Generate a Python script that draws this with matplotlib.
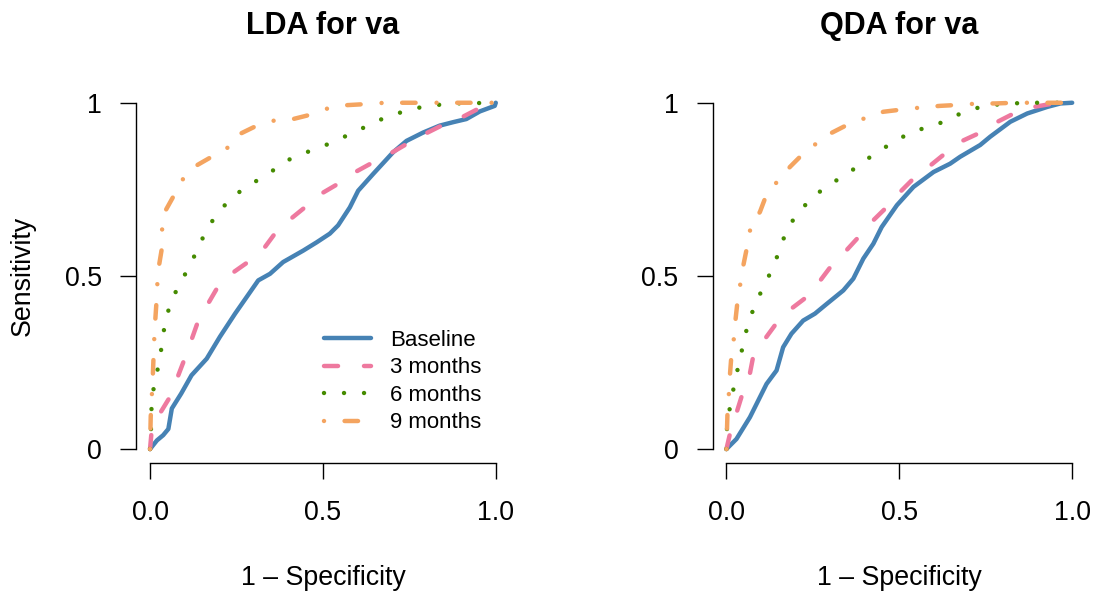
import matplotlib
matplotlib.use("Agg")
import matplotlib.pyplot as plt

plt.rcParams["font.family"] = ["Liberation Sans", "DejaVu Sans"]
plt.rcParams["lines.scale_dashes"] = False

# ROC curves: false positive rate (1 - specificity) vs. sensitivity
lda_base_x = [0, 0.02, 0.038, 0.053, 0.063, 0.09, 0.12, 0.164, 0.202, 0.246, 0.313, 0.347, 0.385,
              0.443, 0.482, 0.520, 0.544, 0.578, 0.602, 0.645, 0.703, 0.742, 0.79, 0.838, 0.877,
              0.915, 0.954, 0.997, 1.0]
lda_base_y = [0, 0.025, 0.04, 0.058, 0.117, 0.16, 0.213, 0.261, 0.324, 0.391, 0.487, 0.506, 0.540,
              0.573, 0.597, 0.622, 0.646, 0.698, 0.746, 0.794, 0.857, 0.890, 0.914, 0.934, 0.944,
              0.953, 0.975, 0.991, 1.0]

lda_m3_x = [0, 0.004, 0.014, 0.058, 0.106, 0.14, 0.193, 0.222, 0.279, 0.318, 0.361, 0.395, 0.448,
            0.486, 0.544, 0.583, 0.645, 0.684, 0.751, 0.785, 0.853, 0.896, 0.954, 1.0]
lda_m3_y = [0, 0.045, 0.079, 0.151, 0.276, 0.372, 0.463, 0.497, 0.537, 0.564, 0.622, 0.655, 0.698,
            0.732, 0.766, 0.794, 0.828, 0.847, 0.886, 0.905, 0.939, 0.955, 0.985, 1.0]

lda_m6_x = [0, 0.002, 0.005, 0.016, 0.029, 0.036, 0.046, 0.063, 0.09, 0.118, 0.142, 0.168, 0.2,
            0.241, 0.289, 0.34, 0.385, 0.438, 0.493, 0.547, 0.6, 0.653, 0.708, 0.766, 0.824,
            0.882, 1.0]
lda_m6_y = [0, 0.028, 0.146, 0.204, 0.261, 0.319, 0.377, 0.432, 0.484, 0.535, 0.588, 0.641, 0.687,
            0.730, 0.764, 0.792, 0.828, 0.852, 0.871, 0.895, 0.919, 0.946, 0.967, 0.984, 0.993,
            0.998, 1.0]

lda_m9_x = [0, 0.002, 0.005, 0.008, 0.012, 0.015, 0.018, 0.021, 0.026, 0.034, 0.035, 0.045, 0.069,
            0.094, 0.133, 0.173, 0.222, 0.26, 0.303, 0.356, 0.414, 0.462, 0.515, 0.568, 0.621,
            0.68, 1.0]
lda_m9_y = [0, 0.093, 0.15, 0.21, 0.314, 0.37, 0.415, 0.475, 0.53, 0.578, 0.636, 0.689, 0.732,
            0.778, 0.818, 0.841, 0.868, 0.91, 0.931, 0.948, 0.953, 0.965, 0.984, 0.993, 0.996,
            1.0, 1.0]

qda_base_x = [0, 0.029, 0.068, 0.092, 0.116, 0.145, 0.164, 0.188, 0.222, 0.256, 0.290, 0.338,
              0.367, 0.396, 0.425, 0.449, 0.493, 0.541, 0.599, 0.647, 0.676, 0.734, 0.763, 0.821,
              0.870, 0.928, 0.966, 1.0]
qda_base_y = [0, 0.029, 0.092, 0.140, 0.188, 0.227, 0.294, 0.333, 0.371, 0.391, 0.419, 0.458,
              0.492, 0.550, 0.593, 0.641, 0.704, 0.757, 0.800, 0.824, 0.844, 0.878, 0.902, 0.945,
              0.969, 0.988, 0.998, 1.0]

qda_m3_x = [0, 0.01, 0.043, 0.063, 0.077, 0.101, 0.140, 0.174, 0.232, 0.261, 0.304, 0.338, 0.382,
            0.415, 0.464, 0.498, 0.546, 0.585, 0.638, 0.676, 0.739, 0.778, 0.841, 0.889, 0.947, 1.0]
qda_m3_y = [0, 0.043, 0.149, 0.193, 0.265, 0.304, 0.357, 0.395, 0.439, 0.473, 0.530, 0.564, 0.612,
            0.651, 0.699, 0.738, 0.786, 0.815, 0.858, 0.887, 0.916, 0.942, 0.974, 0.988, 0.998, 1.0]

qda_m6_x = [0, 0.002, 0.013, 0.024, 0.037, 0.05, 0.063, 0.084, 0.109, 0.135, 0.155, 0.175, 0.207,
            0.248, 0.293, 0.344, 0.391, 0.440, 0.490, 0.541, 0.599, 0.652, 0.707, 0.763, 0.823,
            0.881, 1.0]
qda_m6_y = [0, 0.077, 0.135, 0.193, 0.251, 0.309, 0.365, 0.419, 0.473, 0.524, 0.579, 0.634, 0.683,
            0.725, 0.762, 0.790, 0.826, 0.860, 0.890, 0.919, 0.932, 0.958, 0.981, 0.993, 0.998,
            1.0, 1.0]

qda_m9_x = [0, 0.003, 0.007, 0.01, 0.014, 0.022, 0.026, 0.032, 0.041, 0.048, 0.060, 0.07, 0.097,
            0.116, 0.15, 0.184, 0.222, 0.266, 0.304, 0.357, 0.411, 0.454, 0.512, 0.570, 0.618,
            0.674, 0.729, 0.778, 0.836, 1.0]
qda_m9_y = [0, 0.103, 0.159, 0.212, 0.265, 0.323, 0.371, 0.426, 0.482, 0.526, 0.585, 0.641, 0.685,
            0.735, 0.776, 0.815, 0.853, 0.887, 0.913, 0.940, 0.959, 0.974, 0.981, 0.987, 0.991,
            0.994, 0.998, 0.998, 1.0, 1.0]

series_labels = ["Baseline", "3 months", "6 months", "9 months"]
series_colors = ["#4682B4", "#EE799F", "#458B00", "#F4A460"]
# dash patterns in points (solid, dashed, dotted, dot-dash)
series_styles = ["-", (0, (10.1, 18.7)), (0, (0.01, 14.4)), (0, (0.01, 14.8, 9.7, 15.1))]

x_ticks = [0.0, 0.5, 1.0]
x_tick_labels = ["0.0", "0.5", "1.0"]
y_ticks = [0.0, 0.5, 1.0]
y_tick_labels = ["0", "0.5", "1"]

panels = [
    ("LDA for va", [(lda_base_x, lda_base_y), (lda_m3_x, lda_m3_y),
                    (lda_m6_x, lda_m6_y), (lda_m9_x, lda_m9_y)]),
    ("QDA for va", [(qda_base_x, qda_base_y), (qda_m3_x, qda_m3_y),
                    (qda_m6_x, qda_m6_y), (qda_m9_x, qda_m9_y)]),
]

W, H = 1100, 593
fig = plt.figure(figsize=(W / 100, H / 100), dpi=100)

ax_w = 373.4 / W
ax_h = 374.0 / H
ax_bottom = 1 - 462.9 / H
lefts = [136.2 / W, 712.6 / W]

axes = []
for (title, curves), left in zip(panels, lefts):
    ax = fig.add_axes([left, ax_bottom, ax_w, ax_h])
    axes.append(ax)
    for (xs, ys), lab, col, ls in zip(curves, series_labels, series_colors, series_styles):
        ax.plot(xs, ys, color=col, linestyle=ls, linewidth=3.2, label=lab,
                solid_capstyle="round", dash_capstyle="round", solid_joinstyle="round")
    ax.set_xlim(-0.04, 1.04)
    ax.set_ylim(-0.04, 1.04)
    for s in ["top", "right"]:
        ax.spines[s].set_visible(False)
    ax.spines["left"].set_bounds(0, 1)
    ax.spines["bottom"].set_bounds(0, 1)
    for s in ["left", "bottom"]:
        ax.spines[s].set_linewidth(1.0)
    ax.set_xticks(x_ticks)
    ax.set_xticklabels(x_tick_labels)
    ax.set_yticks(y_ticks)
    ax.set_yticklabels(y_tick_labels)
    ax.tick_params(axis="both", direction="out", length=11.5, width=1.0, labelsize=19.3)
    ax.tick_params(axis="x", pad=15.5)
    ax.tick_params(axis="y", pad=13)
    ax.set_title(title, fontsize=22, fontweight="bold", y=(462.9 - 34) / 374.0, pad=0)
    ax.set_xlabel("1 \u2013 Specificity", fontsize=19.3, va="center")
    ax.xaxis.set_label_coords(0.5, (462.9 - 578) / 374.0)

axes[0].set_ylabel("Sensitivity", fontsize=19.3, va="center")
axes[0].yaxis.set_label_coords((23 - 136.2) / 373.4, 0.5)

axes[0].legend(loc="upper left", bbox_to_anchor=(324 / W, 1 - 330 / H),
               bbox_transform=fig.transFigure, frameon=False, fontsize=16,
               handlelength=2.1, handletextpad=0.86, labelspacing=0.29,
               borderpad=0, borderaxespad=0)

fig.savefig("out.png", dpi=100)
